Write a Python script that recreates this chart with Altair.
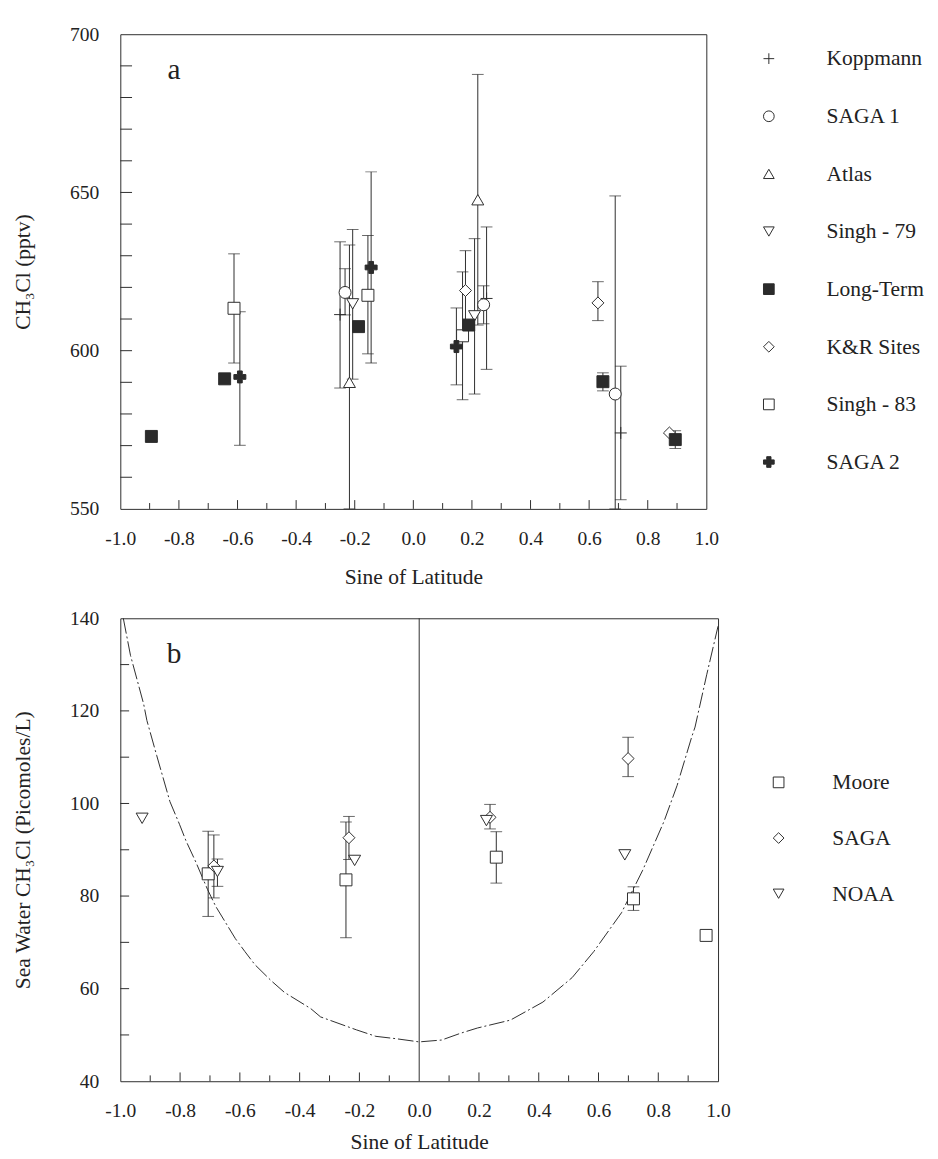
import altair as alt
import pandas as pd

FONT = "Liberation Serif"
INK = "#2b2b2b"
TXT = "#222222"
PLUS = "M-1,0L1,0M0,-1L0,1"

# ---------------- Panel a data ----------------
a_series = ["Koppmann", "SAGA 1", "Atlas", "Singh - 79", "Long-Term", "K&R Sites", "Singh - 83", "SAGA 2"]
a_shapes = [PLUS, "circle", "triangle-up", "triangle-down", "square", "diamond", "square", "cross"]
a_fills = ["white", "white", "white", "white", INK, "white", "white", INK]

kop_x = [-0.25, 0.25, 0.708]
kop_y = [611.4, 616.5, 574.0]
kop_lo = [588.2, 594.1, 552.9]
kop_hi = [634.4, 639.1, 595.1]

saga1_x = [-0.233, 0.24, 0.689]
saga1_y = [618.4, 614.5, 586.3]
saga1_lo = [611.3, 608.5, 550.0]
saga1_hi = [625.9, 620.5, 648.9]

atlas_x = [-0.218, 0.22]
atlas_y = [590.0, 647.7]
atlas_lo = [550.0, 608.1]
atlas_hi = [633.4, 687.3]

s79_x = [-0.207, 0.209]
s79_y = [614.8, 611.0]
s79_lo = [591.0, 586.3]
s79_hi = [638.3, 635.4]

lt_x = [-0.894, -0.644, -0.187, 0.189, 0.647, 0.894]
lt_y = [572.9, 591.1, 607.6, 608.1, 590.2, 571.9]
lt_lo = [None, None, None, None, 587.3, 569.1]
lt_hi = [None, None, None, None, 593.0, 574.7]

kr_x = [0.178, 0.63, 0.874]
kr_y = [619.0, 615.1, 574.0]
kr_lo = [606.4, 609.5, None]
kr_hi = [631.6, 621.8, None]

s83_x = [-0.612, -0.155, 0.168]
s83_y = [613.4, 617.5, 604.7]
s83_lo = [596.1, 599.0, 584.5]
s83_hi = [630.6, 636.4, 624.9]

saga2_x = [-0.592, -0.144, 0.147]
saga2_y = [591.7, 626.3, 601.3]
saga2_lo = [570.1, 596.1, 589.2]
saga2_hi = [612.3, 656.5, 613.5]

a_x_labels = [-1.0, -0.8, -0.6, -0.4, -0.2, 0.0, 0.2, 0.4, 0.6, 0.8, 1.0]
a_x_major = [-0.8, -0.6, -0.4, -0.2, 0.0, 0.2, 0.4, 0.6, 0.8]
a_x_minor = [-0.9, -0.7, -0.5, -0.3, -0.1, 0.1, 0.3, 0.5, 0.7, 0.9]
a_y_labels = [550, 600, 650, 700]
a_y_ticks = [560, 570, 580, 590, 600, 610, 620, 630, 640, 650, 660, 670, 680, 690]

# ---------------- Panel b data ----------------
b_series = ["Moore", "SAGA", "NOAA"]
b_shapes = ["square", "diamond", "triangle-down"]
b_fills = ["white", "white", "white"]

moore_x = [-0.706, -0.245, 0.258, 0.717, 0.96]
moore_y = [84.8, 83.5, 88.4, 79.4, 71.5]
moore_lo = [75.6, 71.0, 82.8, 76.9, None]
moore_hi = [94.0, 96.0, 93.9, 82.0, None]

sagab_x = [-0.687, -0.235, 0.237, 0.699]
sagab_y = [86.5, 92.6, 97.0, 109.7]
sagab_lo = [79.6, 87.9, 94.5, 105.8]
sagab_hi = [93.2, 97.2, 99.8, 114.3]

noaa_x = [-0.927, -0.675, -0.216, 0.225, 0.688]
noaa_y = [96.8, 85.3, 87.7, 96.3, 88.9]
noaa_lo = [None, 82.1, None, None, None]
noaa_hi = [None, 88.0, None, None, None]

curve_x = [-0.99, -0.966, -0.922, -0.911, -0.878, -0.834, -0.802, -0.78, -0.747, -0.708,
           -0.681, -0.615, -0.583, -0.55, -0.495, -0.451, -0.363, -0.33, -0.21, -0.145,
           -0.079, 0.0, 0.075, 0.14, 0.195, 0.305, 0.414, 0.512, 0.584, 0.677,
           0.748, 0.819, 0.863, 0.912, 0.923, 0.962, 1.0]
curve_y = [140.0, 132.0, 121.5, 117.9, 110.3, 100.4, 95.5, 91.9, 87.3, 81.4,
           77.8, 70.8, 68.0, 65.2, 61.7, 59.2, 55.7, 53.9, 51.1, 49.7,
           49.2, 48.5, 48.9, 50.4, 51.5, 53.2, 57.1, 62.4, 68.0, 76.4,
           85.6, 96.1, 103.9, 114.4, 116.5, 127.8, 138.3]

zero_line = [0.0]
b_x_labels = [-1.0, -0.8, -0.6, -0.4, -0.2, 0.0, 0.2, 0.4, 0.6, 0.8, 1.0]
b_x_major = [-0.8, -0.6, -0.4, -0.2, 0.2, 0.4, 0.6, 0.8]
b_x_minor = [-0.9, -0.7, -0.5, -0.3, -0.1, 0.1, 0.3, 0.5, 0.7, 0.9]
b_y_labels = [40, 60, 80, 100, 120, 140]
b_y_ticks = [50, 60, 70, 80, 90, 100, 110, 120, 130]


def rows(name, xs, ys, los, his):
    return [{"series": name, "x": x, "y": y, "lo": lo, "hi": hi}
            for x, y, lo, hi in zip(xs, ys, los, his)]


# drawing order: open symbols first, filled on top
df_a = pd.DataFrame(
    rows("Singh - 83", s83_x, s83_y, s83_lo, s83_hi)
    + rows("Koppmann", kop_x, kop_y, kop_lo, kop_hi)
    + rows("SAGA 1", saga1_x, saga1_y, saga1_lo, saga1_hi)
    + rows("Atlas", atlas_x, atlas_y, atlas_lo, atlas_hi)
    + rows("Singh - 79", s79_x, s79_y, s79_lo, s79_hi)
    + rows("K&R Sites", kr_x, kr_y, kr_lo, kr_hi)
    + rows("Long-Term", lt_x, lt_y, lt_lo, lt_hi)
    + rows("SAGA 2", saga2_x, saga2_y, saga2_lo, saga2_hi)
)
df_b = pd.DataFrame(
    rows("Moore", moore_x, moore_y, moore_lo, moore_hi)
    + rows("SAGA", sagab_x, sagab_y, sagab_lo, sagab_hi)
    + rows("NOAA", noaa_x, noaa_y, noaa_lo, noaa_hi)
)
err_a = df_a.dropna(subset=["lo", "hi"])
err_b = df_b.dropna(subset=["lo", "hi"])
df_curve = pd.DataFrame({"x": curve_x, "y": curve_y})

LABEL_EXPR = "datum.value < 0 ? '-' + format(-datum.value, '.1f') : format(datum.value, '.1f')"


def x_axis(values, tpad):
    return alt.Axis(values=values, ticks=False, domain=False, grid=False,
                    labelExpr=LABEL_EXPR, labelPadding=20, title="Sine of Latitude",
                    titlePadding=tpad, labelFlush=False)


def y_axis(values, title):
    return alt.Axis(values=values, ticks=False, domain=False, grid=False,
                    labelPadding=22, title=title, titlePadding=36, format="d",
                    labelFlush=False)


def legend(px, py, offset, rowpad):
    return alt.Legend(orient="none", legendX=px, legendY=py, title=None,
                      labelFont=FONT, labelFontSize=22, labelColor=TXT,
                      symbolSize=120, symbolStrokeWidth=1, symbolStrokeColor=INK,
                      rowPadding=rowpad, labelOffset=offset, padding=0)


def panel(df, err, W, H, xdom, ydom, series, shapes, fills, xlabels, xmajor, xminor,
          ylabels, yticks, ytick_len, ytitle, letter, leg, tpad, extra=None):
    xs = alt.Scale(domain=xdom, nice=False, zero=False)
    ys = alt.Scale(domain=ydom, nice=False, zero=False)
    xa = x_axis(xlabels, tpad)
    ya = y_axis(ylabels, ytitle)

    def X(f):
        return alt.X(f, scale=xs, axis=xa)

    def Y(f):
        return alt.Y(f, scale=ys, axis=ya)

    layers = []
    if extra is not None:
        layers += extra(X, Y)
    bars = alt.Chart(err).mark_rule(color=INK, strokeWidth=1).encode(
        x=X("x:Q"), y=Y("lo:Q"), y2="hi:Q")
    cap_lo = alt.Chart(err).mark_tick(orient="horizontal", size=12, thickness=1, color=INK).encode(
        x=X("x:Q"), y=Y("lo:Q"))
    cap_hi = alt.Chart(err).mark_tick(orient="horizontal", size=12, thickness=1, color=INK).encode(
        x=X("x:Q"), y=Y("hi:Q"))
    n = len(series)
    pts = alt.Chart(df).mark_point(filled=True, size=150, strokeWidth=1, opacity=1).encode(
        x=X("x:Q"), y=Y("y:Q"),
        shape=alt.Shape("series:N", scale=alt.Scale(domain=series, range=shapes), legend=leg),
        fill=alt.Fill("series:N", scale=alt.Scale(domain=series, range=fills), legend=leg),
        stroke=alt.Stroke("series:N", scale=alt.Scale(domain=series, range=[INK] * n), legend=leg),
    )
    tmaj = alt.Chart(pd.DataFrame({"v": xmajor})).mark_rule(color=INK, strokeWidth=1).encode(
        x=X("v:Q"), y=alt.value(H), y2=alt.value(H - 9))
    tmin = alt.Chart(pd.DataFrame({"v": xminor})).mark_rule(color=INK, strokeWidth=1).encode(
        x=X("v:Q"), y=alt.value(H), y2=alt.value(H - 6))
    ytk = alt.Chart(pd.DataFrame({"v": yticks})).mark_rule(color=INK, strokeWidth=1).encode(
        y=Y("v:Q"), x=alt.value(0), x2=alt.value(ytick_len))
    lab = alt.Chart(pd.DataFrame({"t": [letter]})).mark_text(
        font=FONT, fontSize=30, color=TXT, align="center", baseline="middle").encode(
        text="t:N", x=alt.value(55), y=alt.value(37))
    layers += [bars, cap_lo, cap_hi, pts, tmaj, tmin, ytk, lab]
    return alt.layer(*layers).properties(width=W, height=H)


def curve_layers(X, Y):
    z = alt.Chart(pd.DataFrame({"z": zero_line})).mark_rule(color=INK, strokeWidth=1).encode(
        x=X("z:Q"))
    c = alt.Chart(df_curve).mark_line(color=INK, strokeWidth=1, strokeDash=[16, 3, 2, 3]).encode(
        x=X("x:Q"), y=Y("y:Q"))
    return [z, c]


WA, HA = 600, 486
WB, HB = 612, 474

panel_a = panel(df_a, err_a, WA, HA, [-1, 1], [550, 700], a_series, a_shapes, a_fills,
                a_x_labels, a_x_major, a_x_minor, a_y_labels, a_y_ticks, 12,
                "CH₃Cl (pptv)", "a", legend(WA + 53, 14, 48, 37), 19)
panel_b = panel(df_b, err_b, WB, HB, [-1, 1], [40, 140], b_series, b_shapes, b_fills,
                b_x_labels, b_x_major, b_x_minor, b_y_labels, b_y_ticks, 9,
                "Sea Water CH₃Cl (Picomoles/L)", "b", legend(WB + 51, 157, 44, 35), 12,
                extra=curve_layers)

chart = alt.vconcat(panel_a, panel_b, spacing=20).resolve_scale(
    x="independent", y="independent", shape="independent", fill="independent",
    stroke="independent"
).resolve_legend(shape="independent", fill="independent", stroke="independent").configure(
    font=FONT, padding={"left": 3, "top": 2, "right": 5, "bottom": 2}
).configure_view(stroke=INK, strokeWidth=1).configure_axis(
    labelFont=FONT, labelFontSize=20, labelColor=TXT, titleFont=FONT, titleFontSize=22,
    titleFontWeight="normal", titleColor=TXT
)

chart.save("out.html", embed_options={"renderer": "svg", "actions": False})
